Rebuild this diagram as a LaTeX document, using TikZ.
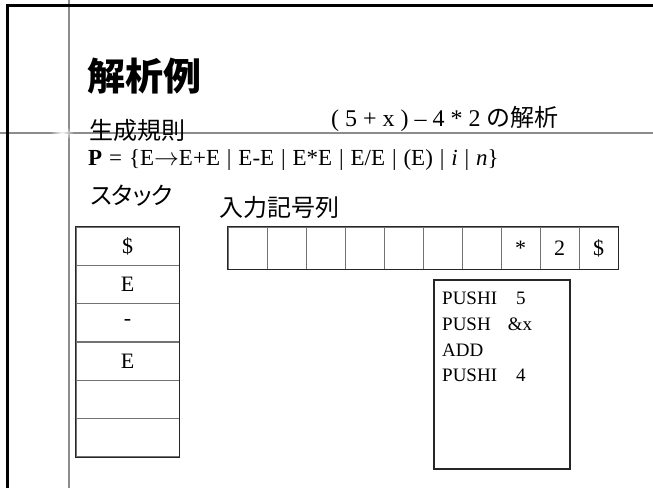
\documentclass[tikz,border=0pt]{standalone}
\usepackage{fontspec}
\usetikzlibrary{fadings}
\setmainfont{Liberation Serif}
\newfontfamily\serifw[WordSpace=1.2]{Liberation Serif}
\newfontfamily\jp[RawFeature=+palt]{Noto Sans CJK JP}
\newfontfamily\jpt{Noto Sans CJK JP}
\tikzfading[name=glowfade, inner color=transparent!0, outer color=transparent!100]
\begin{document}
\begin{tikzpicture}[x=1pt,y=-1pt,
  cell/.style={draw=black!55, line width=1pt, minimum width=103pt, minimum height=38.33pt, inner sep=0pt, font=\fontsize{22}{22}\selectfont},
  incell/.style={draw=black!55, line width=1pt, minimum width=39pt, minimum height=42pt, inner sep=0pt, font=\fontsize{22}{22}\selectfont},
  jplabel/.style={anchor=base west, inner sep=0pt, font=\jp\fontsize{24}{24}\selectfont},
  codeline/.style={anchor=base west, inner sep=0pt, font=\fontsize{19}{19}\selectfont},
  frame/.style={line width=3pt, black},
  guide/.style={line width=2pt, black!45},
  outline/.style={line width=1.8pt, black!85}
]
\useasboundingbox (0,0) rectangle (653,488);
% frame and guides
\draw[guide] (69,0) -- (69,488);
\draw[guide] (0,133) -- (653,133);
\fill[white, path fading=glowfade] (62,133) ellipse (12 and 7);
\draw[frame] (7,488) -- (7,5) -- (653,5);
% title
\node[anchor=base west, inner sep=0pt, font=\jpt\bfseries\fontsize{38}{38}\selectfont] (title) at (87,90) {解析例};
\node[anchor=base west, inner sep=0pt, font=\fontsize{24}{24}\selectfont] (expr) at (331,126) {( 5 + x ) – 4 * 2 {\jpt の解析}};
\node[jplabel] (rules) at (89,139) {生成規則};
\node[anchor=base west, inner sep=0pt, font=\serifw\fontsize{23}{23}\selectfont] (prod) at (88,165) {\textbf{P} = \{E$\rightarrow$E+E | E-E | E*E | E/E | (E) | \textit{i} | \textit{n}\}};
\node[jplabel] (stacklbl) at (90,204) {スタック};
\node[jplabel] (inlbl) at (219,216) {入力記号列};
% stack
\node[cell] (s1) at (127.5,246.2) {\$};
\node[cell] (s2) at (127.5,284.5) {E};
\node[cell] (s3) at (127.5,322.8) {-};
\node[cell] (s4) at (127.5,361.2) {E};
\node[cell] (s5) at (127.5,399.5) {};
\node[cell] (s6) at (127.5,437.8) {};
\draw[outline] (s1.north west) rectangle (s6.south east);
% input
\foreach \i/\t in {1/,2/,3/,4/,5/,6/,7/,8/*,9/2,10/\$} {
  \node[incell] (in\i) at ({228+39*\i-19.5},248) {\t};
}
\draw[outline] (in1.north west) rectangle (in10.south east);
% code box
\node[outline, draw, minimum width=136pt, minimum height=189pt, inner sep=0pt] (code) at (502,374.5) {};
\node[codeline] (c1) at (442,304) {PUSHI\hspace{19pt}5};
\node[codeline] (c2) at (442,330) {PUSH\hspace{17pt}\&x};
\node[codeline] (c3) at (442,356) {ADD};
\node[codeline] (c4) at (442,381) {PUSHI\hspace{19pt}4};
\end{tikzpicture}
\end{document}
